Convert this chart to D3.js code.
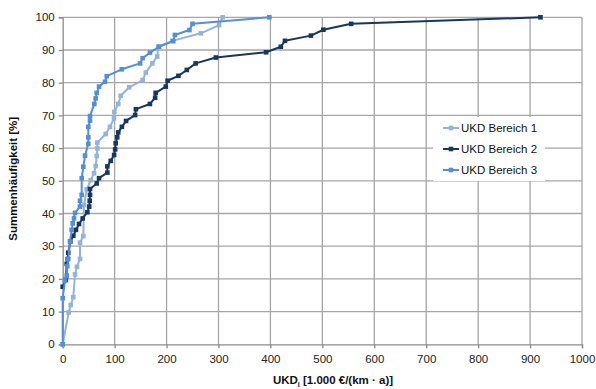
<!DOCTYPE html>
<html>
<head>
<meta charset="utf-8">
<script src="https://cdn.jsdelivr.net/npm/d3@7"></script>
<style>
  html, body { margin: 0; padding: 0; background: #fff; }
  svg { display: block; font-family: "Liberation Sans", Arial, sans-serif; }
</style>
</head>
<body>
<svg id="chart" width="596" height="389"></svg>
<script>
// ---- data ----
const seriesNames = ["UKD Bereich 1", "UKD Bereich 2", "UKD Bereich 3"];
const xTicks = [0, 100, 200, 300, 400, 500, 600, 700, 800, 900, 1000];
const yTicks = [0, 10, 20, 30, 40, 50, 60, 70, 80, 90, 100];

const s1x = [0, 11.5, 15.4, 20.4, 23.7, 27.5, 33.3, 33.3, 39.7, 41, 46.2, 54, 60.3, 63.5, 65.5, 66.7, 66.7, 82.8, 91, 98.8, 99.4, 107, 111.7, 128, 154, 160, 172.6, 182, 184, 211, 266, 301, 308];
const s1y = [0, 9.7, 12, 14.4, 21.4, 23.7, 26.1, 31.1, 33.1, 42.6, 47.4, 50.2, 52.3, 54.5, 57.6, 59.9, 61.7, 64.3, 66.5, 69.1, 71.1, 73.5, 76, 78.6, 80.8, 83.1, 85.9, 88, 91, 92.8, 95.1, 97.6, 100];

const s2x = [0, 6, 7.7, 9.6, 10.8, 14.7, 20.4, 25.6, 31.4, 38.5, 47.5, 51, 52, 52.6, 52.6, 65.6, 70, 86, 86, 92.5, 99, 101, 102, 105, 107, 114, 122, 139.5, 141, 168, 178, 179, 198.5, 202, 222.8, 239, 256, 295, 391.7, 420, 428, 478, 502, 555.5, 920];
const s2y = [17.6, 19.7, 24.6, 26.1, 28, 31.4, 33.2, 35, 36.8, 38.5, 40.4, 42.1, 43.9, 45.7, 47.5, 49.2, 50.8, 52.5, 54.4, 56.1, 57.9, 59.6, 61.5, 63.3, 64.8, 66.5, 68.3, 70.1, 71.9, 73.5, 75.4, 76.9, 78.8, 80.6, 82.1, 83.9, 85.9, 87.7, 89.3, 91, 92.8, 94.4, 96.2, 98, 100];

const s3x = [0, 0, 4.4, 7.7, 8.9, 10.8, 14, 17.3, 19.3, 21.8, 23.7, 33.3, 33.3, 36.6, 36.6, 39.7, 43, 49.3, 49.3, 49.3, 52.6, 52.6, 60.9, 63.5, 65.5, 70, 81.5, 84.8, 113.7, 149, 154, 168, 185.5, 213, 216, 244, 250, 398];
const s3y = [0, 14.1, 19.5, 21, 23.9, 26.1, 31.4, 35, 37, 38.5, 40.2, 42.1, 43.9, 45.7, 50.8, 54.3, 57.7, 61.3, 63.3, 66.5, 68.4, 69.8, 73.5, 75.2, 76.9, 78.8, 80.3, 82, 84.1, 85.9, 87.5, 89.2, 91, 92.7, 94.6, 96.1, 98, 100];

const colors = ["#95B3D7", "#17375E", "#558ED5"];

// ---- layout ----
const svg = d3.select("#chart");
const L = 62.7, R = 582, T = 17.3, B = 344.3;
const x = d3.scaleLinear().domain([0, 1000]).range([L, R]);
const y = d3.scaleLinear().domain([0, 100]).range([B, T]);

// gridlines
const grid = svg.append("g").attr("stroke", "#a6a6a6").attr("stroke-width", 1.3);
grid.selectAll("line.v").data(xTicks.slice(1)).join("line")
  .attr("x1", d => x(d)).attr("x2", d => x(d)).attr("y1", T).attr("y2", B);
grid.selectAll("line.h").data(yTicks.slice(1)).join("line")
  .attr("x1", L).attr("x2", R).attr("y1", d => y(d)).attr("y2", d => y(d));

// axes
const xAxis = d3.axisBottom(x).tickValues(xTicks).tickFormat(d3.format("d")).tickSize(4).tickPadding(4);
const yAxis = d3.axisLeft(y).tickValues(yTicks).tickFormat(d3.format("d")).tickSize(4).tickPadding(4);
const gx = svg.append("g").attr("transform", `translate(0,${B})`).call(xAxis);
const gy = svg.append("g").attr("transform", `translate(${L},0)`).call(yAxis);
[gx, gy].forEach(g => {
  g.select(".domain").attr("stroke", "#8c8c8c").attr("stroke-width", 1.3);
  g.selectAll(".tick line").attr("stroke", "#8c8c8c").attr("stroke-width", 1.3);
  g.selectAll(".tick text").attr("fill", "#222").style("font-size", "11.5px")
    .style("font-family", "'Liberation Sans', Arial, sans-serif");
});
gx.selectAll(".tick text").attr("dy", "0.9em");

// series
const seriesX = [s1x, s2x, s3x];
const seriesY = [s1y, s2y, s3y];
const line = d3.line().x(d => x(d[0])).y(d => y(d[1]));
[0, 1, 2].forEach(i => {
  const pts = seriesX[i].map((v, k) => [v, seriesY[i][k]]);
  const g = svg.append("g");
  g.append("path").datum(pts).attr("d", line)
    .attr("fill", "none").attr("stroke", colors[i]).attr("stroke-width", 2)
    .attr("stroke-linejoin", "round");
  g.selectAll("rect").data(pts).join("rect")
    .attr("x", d => x(d[0]) - 2.3).attr("y", d => y(d[1]) - 2.3)
    .attr("width", 4.6).attr("height", 4.6).attr("fill", colors[i]);
});

// legend
const lg = svg.append("g");
lg.append("rect").attr("x", 433).attr("y", 117).attr("width", 112).attr("height", 64).attr("fill", "#fff");
seriesNames.forEach((name, i) => {
  const cy = 128 + i * 21;
  lg.append("line").attr("x1", 443).attr("x2", 459).attr("y1", cy).attr("y2", cy)
    .attr("stroke", colors[i]).attr("stroke-width", 2);
  lg.append("rect").attr("x", 451 - 2.3).attr("y", cy - 2.3).attr("width", 4.6).attr("height", 4.6).attr("fill", colors[i]);
  lg.append("text").attr("x", 461).attr("y", cy).attr("dy", "0.35em")
    .style("font-size", "11.5px").attr("fill", "#111").text(name);
});

// axis titles
svg.append("text")
  .attr("transform", `translate(17,${(T + B) / 2 - 2}) rotate(-90)`)
  .attr("text-anchor", "middle").style("font-size", "11.5px").style("font-weight", "bold")
  .attr("fill", "#111").text("Summenhäufigkeit [%]");

const xt = svg.append("text").attr("x", 333).attr("y", 384)
  .attr("text-anchor", "middle").style("font-size", "11.5px").style("font-weight", "bold").attr("fill", "#111");
xt.append("tspan").text("UKD");
xt.append("tspan").attr("dy", 3).style("font-size", "7px").text("i");
xt.append("tspan").attr("dy", -3).text(" [1.000 €/(km · a)]");
</script>
</body>
</html>
